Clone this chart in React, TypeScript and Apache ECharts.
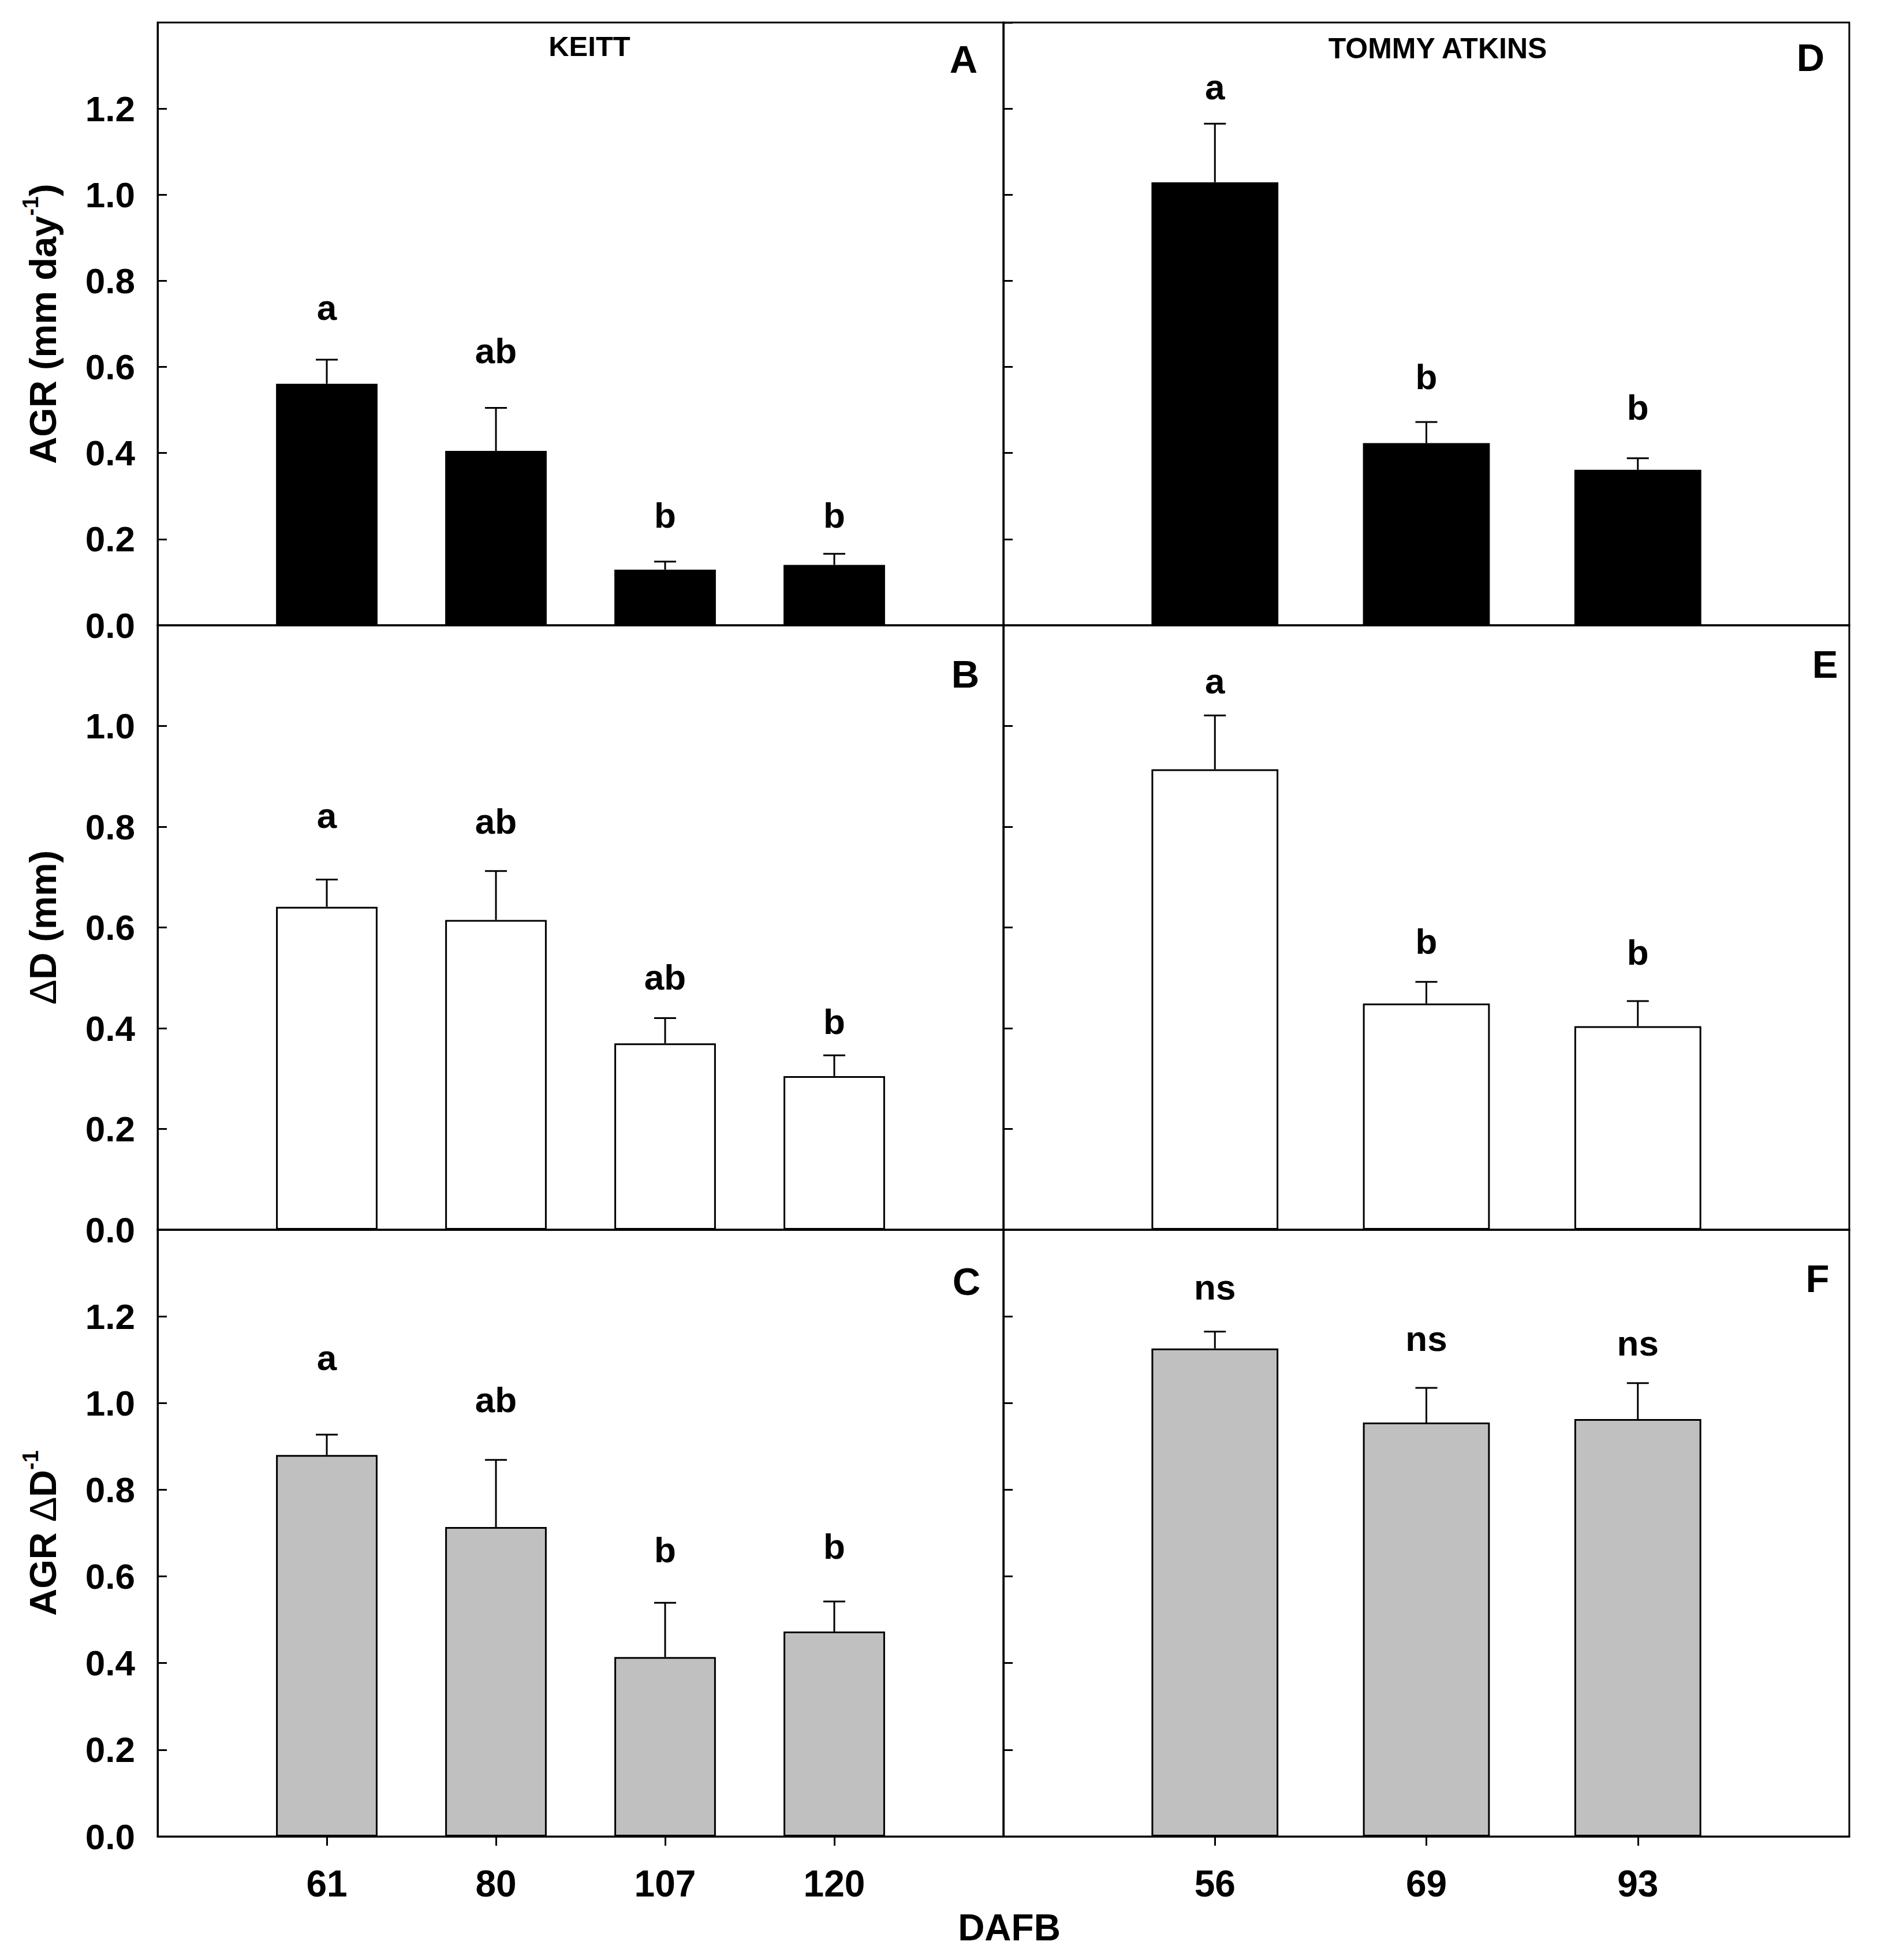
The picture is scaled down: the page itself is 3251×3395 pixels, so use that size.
import React, { useEffect, useRef } from 'react';
import * as echarts from 'echarts';

const FONT = '"Liberation Sans", Arial, Helvetica, sans-serif';

// sampling days (DAFB)
const keittDays = ['61', '80', '107', '120'];
const tommyDays = ['56', '69', '93'];

// A - AGR, Keitt
const agrKeitt = [0.561, 0.405, 0.129, 0.14];
const agrKeittSe = [0.056, 0.1, 0.019, 0.026];
const agrKeittLetters = ['a', 'ab', 'b', 'b'];
const agrKeittLetterY = [0.738, 0.638, 0.256, 0.256];

// B - delta D, Keitt
const dKeitt = [0.641, 0.615, 0.37, 0.305];
const dKeittSe = [0.054, 0.097, 0.05, 0.041];
const dKeittLetters = ['a', 'ab', 'ab', 'b'];
const dKeittLetterY = [0.822, 0.811, 0.502, 0.413];

// C - AGR / delta D, Keitt
const ratioKeitt = [0.88, 0.714, 0.414, 0.473];
const ratioKeittSe = [0.047, 0.155, 0.125, 0.069];
const ratioKeittLetters = ['a', 'ab', 'b', 'b'];
const ratioKeittLetterY = [1.105, 1.008, 0.662, 0.67];

// D - AGR, Tommy Atkins
const agrTommy = [1.029, 0.423, 0.361];
const agrTommySe = [0.136, 0.049, 0.027];
const agrTommyLetters = ['a', 'b', 'b'];
const agrTommyLetterY = [1.25, 0.577, 0.506];

// E - delta D, Tommy Atkins
const dTommy = [0.914, 0.449, 0.404];
const dTommySe = [0.107, 0.043, 0.05];
const dTommyLetters = ['a', 'b', 'b'];
const dTommyLetterY = [1.089, 0.573, 0.551];

// F - AGR / delta D, Tommy Atkins
const ratioTommy = [1.126, 0.955, 0.963];
const ratioTommySe = [0.039, 0.08, 0.083];
const ratioTommyLetters = ['ns', 'ns', 'ns'];
const ratioTommyLetterY = [1.268, 1.149, 1.138];

const yMaxRows = [1.4, 1.2, 1.4];
const yNames = ['AGR (mm day{sup|-1})', '{d|Δ}D (mm)', 'AGR {d|Δ}D{sup|-1}'];

const COL_LEFT = [273, 1738];
const COL_W = 1465;
const ROW_TOP = [39, 1083, 2130];
const ROW_H = [1044, 1047, 1051];

const panels = [
  { col: 0, row: 0, days: keittDays, values: agrKeitt, se: agrKeittSe, letters: agrKeittLetters, letterY: agrKeittLetterY, fill: '#000000' },
  { col: 0, row: 1, days: keittDays, values: dKeitt, se: dKeittSe, letters: dKeittLetters, letterY: dKeittLetterY, fill: '#ffffff' },
  { col: 0, row: 2, days: keittDays, values: ratioKeitt, se: ratioKeittSe, letters: ratioKeittLetters, letterY: ratioKeittLetterY, fill: '#c0c0c0' },
  { col: 1, row: 0, days: tommyDays, values: agrTommy, se: agrTommySe, letters: agrTommyLetters, letterY: agrTommyLetterY, fill: '#000000' },
  { col: 1, row: 1, days: tommyDays, values: dTommy, se: dTommySe, letters: dTommyLetters, letterY: dTommyLetterY, fill: '#ffffff' },
  { col: 1, row: 2, days: tommyDays, values: ratioTommy, se: ratioTommySe, letters: ratioTommyLetters, letterY: ratioTommyLetterY, fill: '#c0c0c0' },
];

const line = { color: '#000', width: 3 };

function buildOption() {
  const grid: any[] = [];
  const xAxis: any[] = [];
  const yAxis: any[] = [];
  const series: any[] = [];

  panels.forEach((p, i) => {
    const bottom = p.row === 2;
    const cats = ['', ...p.days, ''];
    grid.push({
      left: COL_LEFT[p.col],
      top: ROW_TOP[p.row],
      width: COL_W,
      height: ROW_H[p.row],
      show: true,
      borderColor: '#000',
      borderWidth: 3,
      backgroundColor: 'transparent',
    });
    xAxis.push({
      type: 'category',
      gridIndex: i,
      data: cats,
      boundaryGap: false,
      axisLine: { show: true, lineStyle: line },
      axisTick: {
        show: bottom,
        length: 16,
        lineStyle: line,
        interval: (_idx: number, v: string) => v !== '',
      },
      axisLabel: {
        show: bottom,
        interval: 0,
        fontSize: 64,
        fontWeight: 'bold',
        fontFamily: FONT,
        color: '#000',
        margin: 50,
      },
      splitLine: { show: false },
    });
    yAxis.push({
      type: 'value',
      gridIndex: i,
      min: 0,
      max: yMaxRows[p.row],
      interval: 0.2,
      name: p.col === 0 ? yNames[p.row] : '',
      nameLocation: 'middle',
      nameRotate: 90,
      nameGap: 159,
      nameTextStyle: {
        fontSize: 65,
        fontWeight: 'bold',
        fontFamily: FONT,
        color: '#000',
        lineHeight: 80,
        rich: {
          sup: { fontSize: 38, lineHeight: 38, fontWeight: 'bold', fontFamily: FONT, color: '#000', verticalAlign: 'top' },
          d: { fontSize: 65, lineHeight: 80, fontWeight: 'normal', fontFamily: FONT, color: '#000' },
        },
      },
      axisLine: { show: true, lineStyle: line },
      axisTick: { show: true, inside: true, length: 16, lineStyle: line },
      axisLabel: {
        show: p.col === 0,
        showMaxLabel: false,
        formatter: (v: number) => v.toFixed(1),
        fontSize: 62,
        fontWeight: 'bold',
        fontFamily: FONT,
        color: '#000',
        margin: 39,
      },
      splitLine: { show: false },
    });

    series.push({
      type: 'bar',
      xAxisIndex: i,
      yAxisIndex: i,
      data: ['-', ...p.values, '-'],
      barWidth: '60%',
      itemStyle: { color: p.fill, borderColor: '#000', borderWidth: 3 },
    });

    // one-sided error bars (mean + SE)
    series.push({
      type: 'custom',
      xAxisIndex: i,
      yAxisIndex: i,
      encode: { x: 0, y: [1, 2] },
      data: p.values.map((v, k) => [k + 1, v, v + p.se[k]]),
      renderItem: (_params: any, api: any) => {
        const base = api.coord([api.value(0), api.value(1)]);
        const top = api.coord([api.value(0), api.value(2)]);
        const half = 19;
        const st = { stroke: '#000', lineWidth: 3 };
        return {
          type: 'group',
          children: [
            { type: 'line', shape: { x1: base[0], y1: base[1], x2: top[0], y2: top[1] }, style: st },
            { type: 'line', shape: { x1: top[0] - half, y1: top[1], x2: top[0] + half, y2: top[1] }, style: st },
          ],
        };
      },
    });

    // significance letters
    series.push({
      type: 'custom',
      xAxisIndex: i,
      yAxisIndex: i,
      encode: { x: 0, y: 1 },
      data: p.letterY.map((y, k) => [k + 1, y]),
      renderItem: (params: any, api: any) => {
        const pt = api.coord([api.value(0), api.value(1)]);
        return {
          type: 'text',
          x: pt[0],
          y: pt[1],
          style: {
            text: p.letters[params.dataIndex],
            fill: '#000',
            font: `bold 62px ${FONT}`,
            align: 'center',
            verticalAlign: 'middle',
          },
        };
      },
    });
  });

  const txt = (x: number, y: number, text: string, size: number) => ({
    type: 'text',
    x,
    y,
    style: { text, fill: '#000', font: `bold ${size}px ${FONT}`, align: 'center', verticalAlign: 'middle' },
  });

  const graphic = [
    txt(1021, 80, 'KEITT', 49),
    txt(2490, 84, 'TOMMY ATKINS', 50),
    txt(1669, 102, 'A', 67),
    txt(1672, 1167, 'B', 67),
    txt(1674, 2219, 'C', 67),
    txt(3136, 99, 'D', 67),
    txt(3161, 1150, 'E', 67),
    txt(3148, 2214, 'F', 67),
    txt(1748, 3339, 'DAFB', 64),
  ];

  return {
    animation: false,
    backgroundColor: '#ffffff',
    grid,
    xAxis,
    yAxis,
    series,
    graphic,
  };
}

export default function App() {
  const ref = useRef<HTMLDivElement>(null);

  useEffect(() => {
    document.body.style.margin = '0';
    if (!ref.current) return;
    const chart = echarts.init(ref.current, undefined, { renderer: 'svg' });
    chart.setOption(buildOption());
    return () => {
      chart.dispose();
    };
  }, []);

  return <div ref={ref} style={{ width: 3251, height: 3395, background: '#fff' }} />;
}
